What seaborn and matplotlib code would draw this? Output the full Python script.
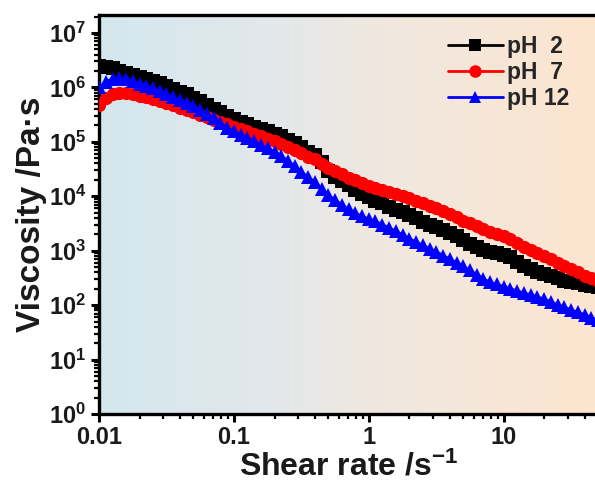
import numpy as np
import pandas as pd
import matplotlib
matplotlib.use("Agg")
import matplotlib.pyplot as plt
from matplotlib.colors import LinearSegmentedColormap
from matplotlib.lines import Line2D
import seaborn as sns

# ---------------- data ----------------
shear_rate = [0.0100, 0.0112, 0.0126, 0.0141, 0.0158, 0.0178, 0.0200, 0.0224, 0.0251, 0.0282,
              0.0316, 0.0355, 0.0398, 0.0447, 0.0501, 0.0562, 0.0631, 0.0708, 0.0794, 0.0891,
              0.100, 0.112, 0.126, 0.141, 0.158, 0.178, 0.200, 0.224, 0.251, 0.282,
              0.316, 0.355, 0.398, 0.447, 0.501, 0.562, 0.631, 0.708, 0.794, 0.891,
              1.00, 1.12, 1.26, 1.41, 1.58, 1.78, 2.00, 2.24, 2.51, 2.82,
              3.16, 3.55, 3.98, 4.47, 5.01, 5.62, 6.31, 7.08, 7.94, 8.91,
              10.0, 11.2, 12.6, 14.1, 15.8, 17.8, 20.0, 22.4, 25.1, 28.2,
              31.6, 35.5, 39.8, 44.7, 50.1]

# log10 of viscosity (Pa·s)
log_visc_ph2 = [6.40, 6.38, 6.35, 6.31, 6.27, 6.23, 6.19, 6.15, 6.12, 6.08,
                6.03, 5.97, 5.92, 5.87, 5.81, 5.75, 5.68, 5.61, 5.54, 5.47,
                5.42, 5.37, 5.33, 5.28, 5.24, 5.20, 5.15, 5.10, 5.03, 4.97,
                4.90, 4.82, 4.76, 4.63, 4.46, 4.36, 4.28, 4.20, 4.12, 4.05,
                3.98, 3.92, 3.87, 3.80, 3.75, 3.71, 3.66, 3.60, 3.53, 3.48,
                3.43, 3.38, 3.33, 3.27, 3.20, 3.13, 3.07, 3.02, 2.98, 2.96,
                2.93, 2.88, 2.80, 2.72, 2.66, 2.61, 2.57, 2.53, 2.49, 2.45,
                2.42, 2.40, 2.37, 2.35, 2.33]

log_visc_ph7 = [5.68, 5.80, 5.87, 5.90, 5.89, 5.87, 5.85, 5.82, 5.79, 5.75,
                5.71, 5.67, 5.62, 5.58, 5.54, 5.49, 5.45, 5.40, 5.36, 5.32,
                5.28, 5.24, 5.20, 5.15, 5.10, 5.06, 5.01, 4.96, 4.90, 4.85,
                4.79, 4.73, 4.68, 4.60, 4.52, 4.46, 4.40, 4.34, 4.29, 4.24,
                4.19, 4.16, 4.12, 4.08, 4.04, 4.00, 3.96, 3.92, 3.88, 3.83,
                3.78, 3.73, 3.67, 3.61, 3.55, 3.50, 3.45, 3.39, 3.34, 3.31,
                3.27, 3.21, 3.14, 3.07, 3.01, 2.95, 2.90, 2.84, 2.78, 2.72,
                2.66, 2.60, 2.54, 2.49, 2.44]

log_visc_ph12 = [6.00, 6.10, 6.16, 6.17, 6.15, 6.11, 6.07, 6.03, 5.98, 5.93,
                 5.87, 5.82, 5.76, 5.71, 5.65, 5.59, 5.52, 5.44, 5.35, 5.26,
                 5.19, 5.13, 5.07, 5.01, 4.95, 4.89, 4.82, 4.74, 4.65, 4.55,
                 4.45, 4.35, 4.26, 4.14, 4.02, 3.93, 3.84, 3.76, 3.69, 3.63,
                 3.58, 3.54, 3.48, 3.42, 3.36, 3.29, 3.22, 3.16, 3.10, 3.04,
                 2.98, 2.91, 2.85, 2.78, 2.71, 2.64, 2.56, 2.48, 2.42, 2.38,
                 2.34, 2.30, 2.26, 2.22, 2.19, 2.15, 2.11, 2.06, 2.01, 1.96,
                 1.91, 1.87, 1.82, 1.77, 1.72]

series_labels = ["pH  2", "pH  7", "pH 12"]
series_colors = ["#000000", "#ff0000", "#0000ff"]
series_markers = ["s", "o", "^"]

x_ticks = [0.01, 0.1, 1, 10]
x_tick_labels = ["0.01", "0.1", "1", "10"]
y_exponents = [0, 1, 2, 3, 4, 5, 6, 7]

# ---------------- build long table ----------------
frames = []
for lab, vals in zip(series_labels, [log_visc_ph2, log_visc_ph7, log_visc_ph12]):
    frames.append(pd.DataFrame({"shear": shear_rate,
                                "visc": np.power(10.0, vals),
                                "series": lab}))
df = pd.concat(frames, ignore_index=True)

# ---------------- style ----------------
sns.set_theme(style="ticks")
plt.rcParams["font.family"] = ["Liberation Sans", "DejaVu Sans"]
plt.rcParams["font.weight"] = "bold"
plt.rcParams["mathtext.fontset"] = "custom"
plt.rcParams["mathtext.rm"] = "Liberation Sans:bold"
plt.rcParams["mathtext.bf"] = "Liberation Sans:bold"
plt.rcParams["mathtext.it"] = "Liberation Sans:bold"

fig = plt.figure(figsize=(5.95, 4.88), dpi=100)
ax = fig.add_axes([99 / 595, 1 - 414 / 488, 499 / 595, (414 - 15) / 488])

# gradient background
bg_cmap = LinearSegmentedColormap.from_list(
    "bg", [(0.0, "#d3e8ee"), (0.35, "#e3e7ea"), (0.55, "#efe8e0"), (1.0, "#fde5cf")])
grad = np.linspace(0, 1, 256).reshape(1, -1)
ax.imshow(grad, cmap=bg_cmap, aspect="auto", extent=[0, 1, 0, 1],
          transform=ax.transAxes, zorder=0)

sns.lineplot(data=df, x="shear", y="visc", hue="series", style="series",
             hue_order=series_labels, style_order=series_labels,
             palette=dict(zip(series_labels, series_colors)),
             markers=dict(zip(series_labels, series_markers)),
             dashes=False, markersize=9.5, markeredgewidth=0, linewidth=2,
             legend=False, ax=ax, zorder=3, sort=False)

ax.set_xscale("log")
ax.set_yscale("log")
ax.set_xlim(0.01, 50)
ax.set_ylim(1, 10 ** 7.33)

ax.set_xticks(x_ticks)
ax.set_xticklabels(x_tick_labels)
ax.set_yticks([10.0 ** e for e in y_exponents])
ax.set_yticklabels([r"$\mathbf{10^{%d}}$" % e for e in y_exponents])
ax.xaxis.set_minor_locator(matplotlib.ticker.LogLocator(base=10, subs=np.arange(2, 10)))
ax.yaxis.set_minor_locator(matplotlib.ticker.LogLocator(base=10, subs=np.arange(2, 10)))
ax.xaxis.set_minor_formatter(matplotlib.ticker.NullFormatter())
ax.yaxis.set_minor_formatter(matplotlib.ticker.NullFormatter())

ax.tick_params(axis="both", which="major", direction="out", length=6, width=2.2,
               labelsize=17, color="black", labelcolor="#1a1a1a", pad=3)
ax.tick_params(axis="both", which="minor", direction="out", length=3.5, width=1.6,
               color="black")
for lab in ax.get_xticklabels() + ax.get_yticklabels():
    lab.set_fontweight("bold")

for side in ["left", "bottom", "top", "right"]:
    ax.spines[side].set_visible(True)
    ax.spines[side].set_linewidth(2.4)
    ax.spines[side].set_color("black")

ax.set_xlabel(r"Shear rate /s$^{\mathbf{-1}}$", fontsize=23, fontweight="bold",
              color="#1a1a1a", labelpad=1)
ax.set_ylabel("Viscosity /Pa·s", fontsize=24, fontweight="bold",
              color="#1a1a1a", labelpad=1.5)

handles = [Line2D([0], [0], color=c, marker=m, markersize=9, markeredgewidth=0,
                  linewidth=2, label=l)
           for l, c, m in zip(series_labels, series_colors, series_markers)]
leg = ax.legend(handles=handles, loc="upper right", bbox_to_anchor=(0.975, 0.99),
                frameon=False, fontsize=16.5, handlelength=2.4, handletextpad=0.2,
                labelspacing=0.12, borderaxespad=0.3)
for t in leg.get_texts():
    t.set_fontweight("bold")

fig.savefig("out.png", dpi=100)
